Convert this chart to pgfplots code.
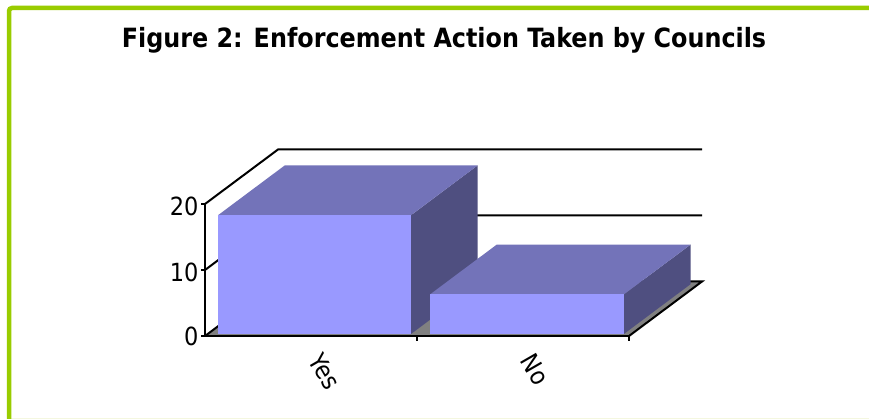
\documentclass[border=0pt]{standalone}
\usepackage{pgfplots}
\pgfplotsset{compat=1.18}
\usepackage{fontspec}
\setmainfont{DejaVu Sans Condensed}
\definecolor{frontc}{HTML}{9999FF}
\definecolor{topc}{HTML}{7373B9}
\definecolor{sidec}{HTML}{4F4F80}
\definecolor{floorc}{HTML}{808080}
\definecolor{framec}{HTML}{99CC00}
\definecolor{paleline}{HTML}{F4F7E0}
\begin{document}
\begin{tikzpicture}[x=1pt,y=1pt]
\path[use as bounding box,fill=white] (0,0) rectangle (869,419);
\begin{axis}[
  at={(205pt,83pt)}, anchor=origin,
  x={(212pt,0pt)}, y={(73pt,54.5pt)}, z={(0pt,6.6pt)},
  xmin=0, xmax=2, ymin=0, ymax=1, zmin=0, zmax=20,
  clip=false,
  axis line style={draw=none},
  tick style={draw=none},
  xtick={0.5,1.5}, xticklabels={Yes,No},
  ytick=\empty,
  ztick={0,10,20},
  tick label style={font=\fontsize{25}{25}\selectfont},
  zticklabel style={xshift=-3pt,yshift=3.5pt},
  xticklabel style={rotate=-60,anchor=north west,xshift=16.5pt,yshift=6.6pt},
  /pgf/number format/assume math mode=true,
]
% floor
\addplot3[fill=floorc,draw=none] coordinates {(0,0,0)(2,0,0)(2,1,0)(0,1,0)} -- cycle;
% walls and gridlines
\addplot3[black,line width=2pt] coordinates {(0,0,0)(0,1,0)(2,1,0)(2,0,0)};
\addplot3[black,line width=2pt] coordinates {(0,0,10)(0,1,10)(2,1,10)};
\addplot3[black,line width=2pt] coordinates {(0,0,20)(0,1,20)(2,1,20)};
\addplot3[black,line width=2pt] coordinates {(0,0,20)(0,0,0)(2,0,0)};
% ticks
\addplot3[black,line width=1.2pt] coordinates {(0,0,0)(-0.02,0,0)};
\addplot3[black,line width=1.2pt] coordinates {(0,0,10)(-0.02,0,10)};
\addplot3[black,line width=1.2pt] coordinates {(0,0,20)(-0.02,0,20)};
\addplot3[black,line width=1.2pt] coordinates {(1,0,0)(1,0,-0.7)};
\addplot3[black,line width=1.2pt] coordinates {(2,0,0)(2,0,-0.7)};
% bar Yes = 18
\addplot3[fill=sidec,draw=none] coordinates {(0.959,0.037,0)(0.959,0.95,0)(0.959,0.95,18)(0.959,0.037,18)} -- cycle;
\addplot3[fill=topc,draw=none] coordinates {(0.049,0.037,18)(0.959,0.037,18)(0.959,0.95,18)(0.049,0.95,18)} -- cycle;
\addplot3[fill=frontc,draw=none] coordinates {(0.049,0.037,0)(0.959,0.037,0)(0.959,0.037,18)(0.049,0.037,18)} -- cycle;
% bar No = 6
\addplot3[fill=sidec,draw=none] coordinates {(1.963,0.037,0)(1.963,0.95,0)(1.963,0.95,6)(1.963,0.037,6)} -- cycle;
\addplot3[fill=topc,draw=none] coordinates {(1.049,0.037,6)(1.963,0.037,6)(1.963,0.95,6)(1.049,0.95,6)} -- cycle;
\addplot3[fill=frontc,draw=none] coordinates {(1.049,0.037,0)(1.963,0.037,0)(1.963,0.037,6)(1.049,0.037,6)} -- cycle;
\end{axis}
\node[font=\fontsize{26.5}{26.5}\selectfont\bfseries] at (444,379) {Figure 2: Enforcement Action Taken by Councils};
\draw[paleline,line width=1pt] (11,0.6) -- (869,0.6);
\draw[framec,line width=4.5pt,rounded corners=3pt] (9,-5) -- (9,411) -- (874,411);
\end{tikzpicture}
\end{document}
